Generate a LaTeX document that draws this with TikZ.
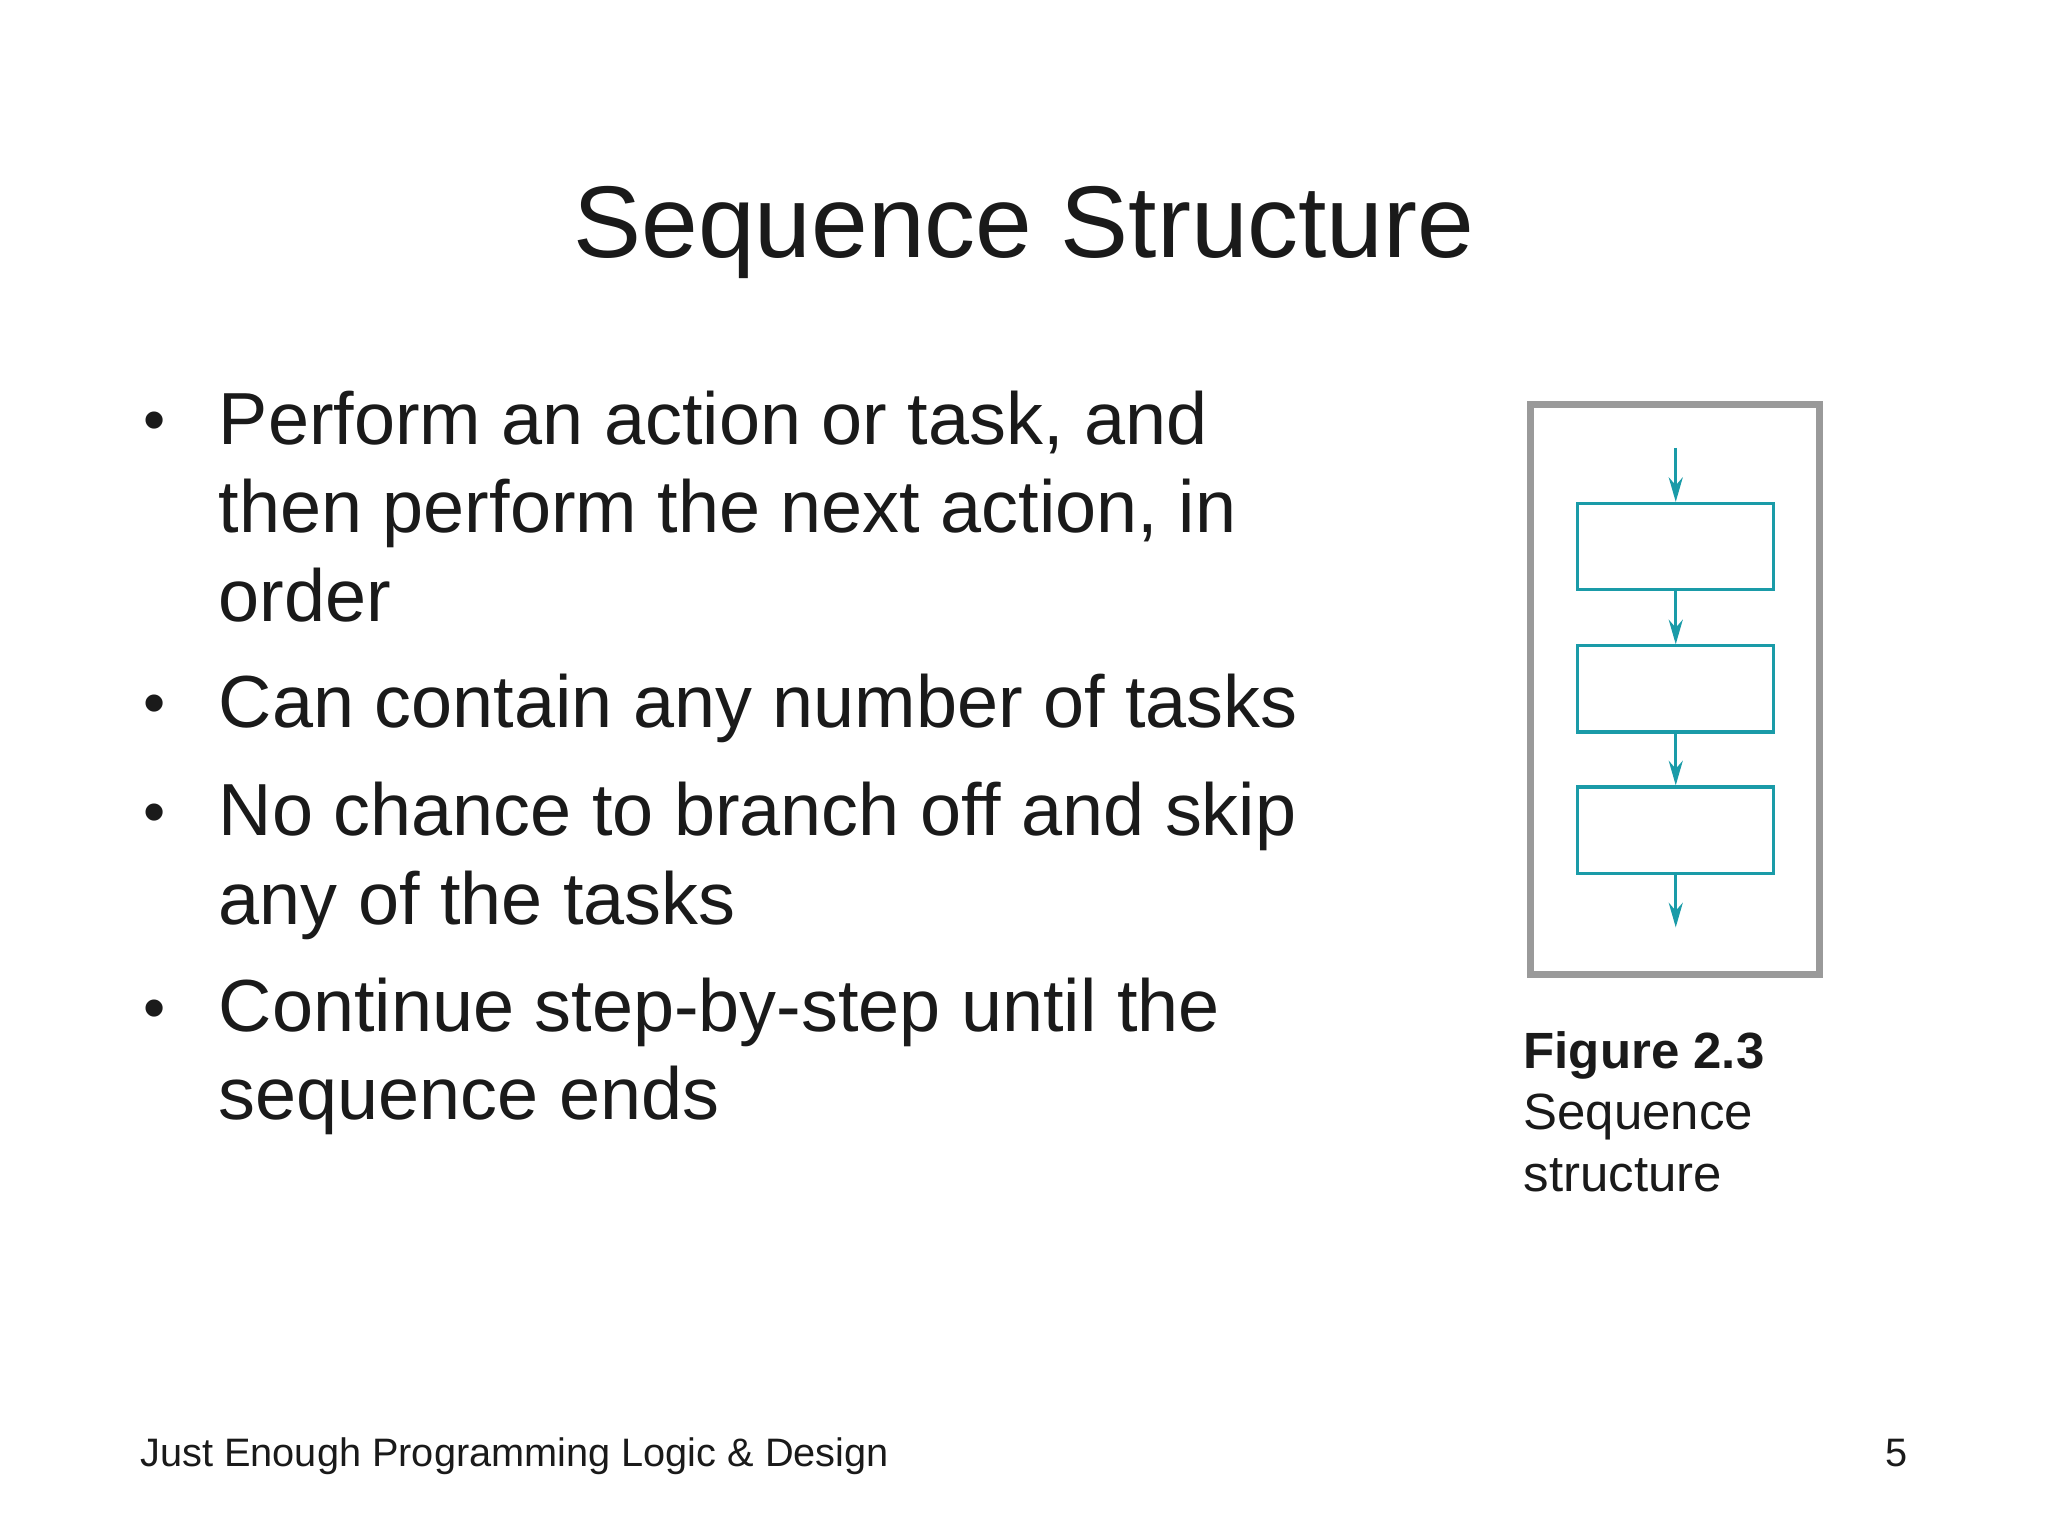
\documentclass[tikz,border=0pt]{standalone}
\usepackage{fontspec}
\setmainfont{Liberation Sans}
\usetikzlibrary{arrows.meta}
\definecolor{teal1}{HTML}{1A9BA8}
\definecolor{frame1}{HTML}{9A9A9A}
\definecolor{txt}{HTML}{1A1A1A}
\begin{document}
\begin{tikzpicture}[x=0.01306cm,y=-0.01306cm,
  line/.style={anchor=base west,inner sep=0,text=txt,font=\fontsize{21}{25}\selectfont},
  bul/.style={anchor=base west,inner sep=0,text=txt,font=\fontsize{18}{22}\selectfont},
  captext/.style={anchor=base west,inner sep=0,text=txt,font=\fontsize{14.5}{17}\selectfont},
  taskbox/.style={draw=teal1,line width=0.9pt,minimum width=150*0.01306cm,minimum height=66*0.01306cm,inner sep=0},
  flow/.style={draw=teal1,line width=0.8pt,-{Stealth[length=7pt,width=4pt]}}]
\useasboundingbox (0,0) rectangle (1568,1176);
\node[anchor=base,inner sep=0,text=txt,font=\fontsize{29}{34}\selectfont] (title) at (784,197) {Sequence Structure};
\foreach \n/\y in {b1/338,b2/555,b3/638,b4/788}{\node[bul] (\n) at (109,\y) {•};}
\node[line] (l1) at (167,340) {Perform an action or task, and};
\node[line] (l2) at (167,408) {then perform the next action, in};
\node[line] (l3) at (167,476) {order};
\node[line] (l4) at (167,557) {Can contain any number of tasks};
\node[line] (l5) at (167,640) {No chance to branch off and skip};
\node[line] (l6) at (167,708) {any of the tasks};
\node[line] (l7) at (167,790) {Continue step-by-step until the};
\node[line] (l8) at (167,857) {sequence ends};
\node[draw=frame1,line width=2pt,minimum width=221*0.01306cm,minimum height=436*0.01306cm,inner sep=0] (frame) at (1282.5,528) {};
\node[taskbox] (t1) at (1283,418.5) {};
\node[taskbox] (t2) at (1283,527.5) {};
\node[taskbox] (t3) at (1283,635.5) {};
\coordinate (s) at (1283,343);
\coordinate (e) at (1283,710);
\draw[flow] (s) -- (t1.north);
\draw[flow] (t1.south) -- (t2.north);
\draw[flow] (t2.south) -- (t3.north);
\draw[flow] (t3.south) -- (e);
\node[captext,font=\fontsize{14.5}{17}\selectfont\bfseries] (c1) at (1166,818) {Figure 2.3};
\node[captext] (c2) at (1166,865) {Sequence};
\node[captext] (c3) at (1166,912) {structure};
\node[anchor=base west,inner sep=0,text=txt,font=\fontsize{11.3}{14}\selectfont] (foot) at (107,1123) {Just Enough Programming Logic \& Design};
\node[anchor=base east,inner sep=0,text=txt,font=\fontsize{11.3}{14}\selectfont] (pg) at (1461,1123) {5};
\end{tikzpicture}
\end{document}
